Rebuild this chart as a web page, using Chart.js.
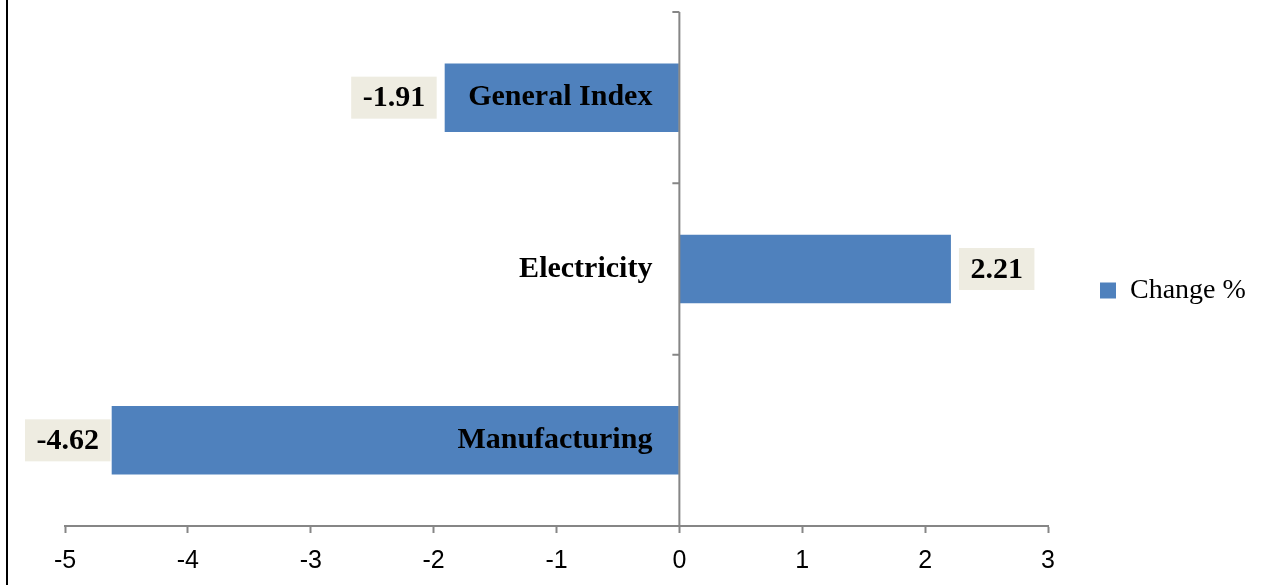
<!DOCTYPE html>
<html>
<head>
<meta charset="utf-8">
<script src="https://cdn.jsdelivr.net/npm/chart.js@4.4.0/dist/chart.umd.min.js"></script>
<style>
  html, body { margin: 0; padding: 0; background: #fff; }
  #wrap { width: 1262px; height: 585px; position: relative; }
</style>
</head>
<body>
<div id="wrap"><canvas id="changeChart"></canvas></div>
<script>
const categories = ['General Index', 'Electricity', 'Manufacturing'];
const changePct = [-1.91, 2.21, -4.62];
const seriesName = 'Change %';
const xMin = -5;
const xMax = 3;

const barColor = '#4F81BD';
const axisColor = '#868686';
const labelBoxColor = '#EEECE1';
const serif = '"Liberation Serif", "Times New Roman", serif';
const sans = '"Liberation Sans", Arial, sans-serif';

// black frame edge on the left of the picture
const frameLine = {
  id: 'frameLine',
  beforeDraw(chart) {
    const c = chart.ctx;
    c.save();
    c.strokeStyle = '#000';
    c.lineWidth = 2;
    c.beginPath();
    c.moveTo(7, 0);
    c.lineTo(7, chart.height);
    c.stroke();
    c.restore();
  }
};

// vertical axis drawn at zero, with tick marks between categories
const zeroAxis = {
  id: 'zeroAxis',
  afterDatasetsDraw(chart) {
    const { ctx, scales: { x, y } } = chart;
    const x0 = x.getPixelForValue(0);
    ctx.save();
    ctx.strokeStyle = axisColor;
    ctx.lineWidth = 2;
    ctx.beginPath();
    ctx.moveTo(x0, y.top);
    ctx.lineTo(x0, y.bottom);
    for (let i = 0; i <= categories.length; i++) {
      const py = y.getPixelForValue(i - 0.5);
      ctx.moveTo(x0 - 7, py);
      ctx.lineTo(x0, py);
    }
    ctx.stroke();

    // category names, right aligned next to the zero axis
    ctx.fillStyle = '#000';
    ctx.font = 'bold 30px ' + serif;
    ctx.textAlign = 'right';
    ctx.textBaseline = 'middle';
    categories.forEach((name, i) => {
      ctx.fillText(name, x0 - 27, y.getPixelForValue(i));
    });
    ctx.restore();
  }
};

// value labels in beige boxes at the end of each bar
const valueLabels = {
  id: 'valueLabels',
  afterDatasetsDraw(chart) {
    const { ctx } = chart;
    const meta = chart.getDatasetMeta(0);
    ctx.save();
    ctx.font = 'bold 30px ' + serif;
    ctx.textAlign = 'center';
    ctx.textBaseline = 'middle';
    meta.data.forEach((bar, i) => {
      const v = changePct[i];
      const txt = v.toFixed(2);
      const w = ctx.measureText(txt).width + 23;
      const h = 42;
      let left = v < 0 ? bar.x - 8 - w : bar.x + 8;
      if (left < 25) left = 25;
      ctx.fillStyle = labelBoxColor;
      ctx.fillRect(left, bar.y - h / 2, w, h);
      ctx.fillStyle = '#000';
      ctx.fillText(txt, left + w / 2, bar.y + 1);
    });
    ctx.restore();
  }
};

// give the legend a fixed width so it sits where the original does
const legendWidth = {
  id: 'legendWidth',
  afterInit(chart) {
    const legend = chart.legend;
    const fit = legend.fit;
    legend.fit = function () {
      fit.call(this);
      this.width = 214;
    };
  },
  afterLayout(chart) {
    // original legend sits a little above the middle
    chart.legend.bottom -= 16;
  }
};

const ctx = document.getElementById('changeChart').getContext('2d');
new Chart(ctx, {
  type: 'bar',
  data: {
    labels: categories,
    datasets: [{
      label: seriesName,
      data: changePct,
      backgroundColor: barColor,
      borderWidth: 0,
      barPercentage: 0.4,
      categoryPercentage: 1
    }]
  },
  options: {
    indexAxis: 'y',
    responsive: true,
    maintainAspectRatio: false,
    devicePixelRatio: 1,
    animation: false,
    events: [],
    layout: { padding: { left: 65, top: 12, right: 0, bottom: 0 } },
    scales: {
      x: {
        type: 'linear',
        min: xMin,
        max: xMax,
        afterFit(scale) {
          scale.height = 59;
        },
        grid: {
          drawOnChartArea: false,
          drawTicks: true,
          tickLength: 7,
          tickColor: axisColor,
          tickWidth: 2
        },
        border: { display: true, color: axisColor, width: 2 },
        ticks: {
          stepSize: 1,
          maxRotation: 0,
          padding: 13,
          color: '#000',
          font: { family: sans, size: 25 }
        }
      },
      y: {
        display: false,
        offset: true
      }
    },
    plugins: {
      legend: {
        position: 'right',
        labels: {
          boxWidth: 16,
          boxHeight: 16,
          padding: 52,
          color: '#000',
          font: { family: serif, size: 28 }
        }
      },
      tooltip: { enabled: false }
    }
  },
  plugins: [frameLine, zeroAxis, valueLabels, legendWidth]
});
</script>
</body>
</html>
